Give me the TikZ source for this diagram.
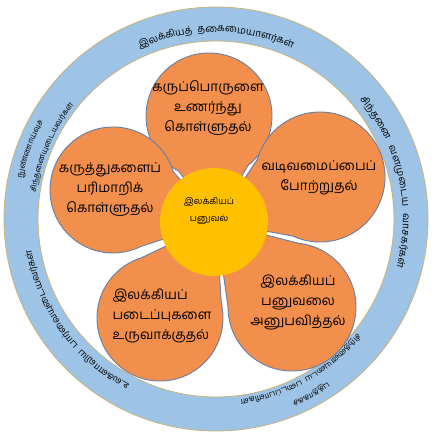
\documentclass[tikz,border=0pt]{standalone}
\usepackage{fontspec}
\setmainfont{Liberation Sans}
\newfontfamily\tamil[Script=Tamil]{Hind Madurai}
\usetikzlibrary{calc}
\definecolor{ringblue}{RGB}{157,195,230}
\definecolor{ringedge}{RGB}{200,180,120}
\definecolor{petalorange}{RGB}{243,143,76}
\definecolor{petaledge}{RGB}{100,128,168}
\definecolor{hubyellow}{RGB}{255,192,0}
\newdimen\clw
\newdimen\totw
\tikzset{
  ringlbl/.style={inner sep=0pt, outer sep=0pt, anchor=base, text=black},
  petalshape/.style={fill=petalorange, draw=petaledge, line width=0.9pt, line join=round},
  petaltxt/.style={align=center, text=black, inner sep=0pt, font=\tamil\fontsize{13.5}{20}\selectfont},
  hubtxt/.style={align=center, text=black, inner sep=0pt, font=\tamil\fontsize{9}{17}\selectfont},
}
% measure outside the picture: #1 name, #2 font, #3 baseline radius, #4 centre angle, #5 clusters
\newcommand\prepring[5]{%
  \global\totw=0pt
  \foreach \cl in {#5}{\setbox0=\hbox{#2\cl}\global\advance\totw by \wd0\relax}%
  \pgfmathsetmacro\rtstart{#4+(\totw/(#3))*28.6479}%
  \xdef\curang{\rtstart}%
  \gdef\rtlist{}%
  \foreach \cl in {#5}{%
    \setbox0=\hbox{#2\cl}\clw=\wd0\relax
    \pgfmathsetmacro\dang{(\clw/(#3))*57.2958}%
    \pgfmathsetmacro\midang{\curang-\dang/2}%
    \pgfmathsetmacro\nxt{\curang-\dang}%
    \xdef\curang{\nxt}%
    \ifx\rtlist\empty
      \xdef\rtlist{\midang/\expandafter\unexpanded\expandafter{\cl}}%
    \else
      \xdef\rtlist{\unexpanded\expandafter{\rtlist},\midang/\expandafter\unexpanded\expandafter{\cl}}%
    \fi
  }%
  \global\expandafter\let\csname rl@#1\endcsname\rtlist
}
% place inside the picture: #1 name, #2 font, #3 baseline radius
\newcommand\placering[3]{%
  \expandafter\let\expandafter\rtlist\csname rl@#1\endcsname
  \foreach \ma/\cl [count=\ci] in \rtlist {%
    \pgfmathsetmacro\rotang{\ma-90}%
    \node[ringlbl,font={#2},rotate=\rotang] (#1-\ci) at ($(rc)+(\ma:#3pt)$) {\cl};
  }%
}
% petal: #1 x, #2 y, #3 radius, #4 ccw-side tip half angle, #5 cw-side tip half angle ; tip at (ctr)=(216,214)
\newcommand\petal[5]{%
  \pgfmathsetmacro\pdx{#1-216}%
  \pgfmathsetmacro\pdy{#2-214}%
  \pgfmathsetmacro\pd{veclen(\pdx,\pdy)}%
  \pgfmathsetmacro\pth{atan2(\pdy,\pdx)}%
  \pgfmathsetmacro\pal{asin(#3/\pd)-0.4}%
  \pgfmathsetmacro\ap{min(#4,\pal)}%
  \pgfmathsetmacro\am{min(#5,\pal)}%
  \pgfmathsetmacro\tp{\pd*cos(\ap)-sqrt(max(0,#3*#3-\pd*\pd*sin(\ap)*sin(\ap)))}%
  \pgfmathsetmacro\tm{\pd*cos(\am)-sqrt(max(0,#3*#3-\pd*\pd*sin(\am)*sin(\am)))}%
  \pgfmathsetmacro\php{atan2(\tp*sin(\ap),-\pd+\tp*cos(\ap))}%
  \pgfmathsetmacro\phm{atan2(\tm*sin(\am),-\pd+\tm*cos(\am))}%
  \pgfmathsetmacro\sa{\pth-\phm}%
  \pgfmathsetmacro\ea{\pth+\php}%
  \draw[petalshape] (ctr) -- ($(#1pt,#2pt)+(\sa:#3pt)$) arc[start angle=\sa, end angle=\ea, radius=#3pt] -- cycle;
}
\def\fA{\tamil\fontsize{10}{12}\selectfont}
\def\fB{\tamil\fontsize{8}{10}\selectfont}
\def\fC{\tamil\fontsize{9.5}{11}\selectfont}
\begin{document}%
\prepring{rt}{\fA}{187}{90}{இ,ல,க்,கி,ய,த்,~,~,த,கை,மை,யா,ள,ர்,க,ள்}%
\prepring{rr}{\fA}{187}{12.4}{சி,ந்,த,னை,~,~,~,வ,ள,மு,டை,ய,~,~,~,வா,ச,க,ர்,க,ள்}%
\prepring{rlo}{\fB}{198}{159.4}{நு,ண்,ணா,ய்,வு,ச்}%
\prepring{rli}{\fB}{182}{156.5}{சி,ந்,த,னை,யு,டை,ய,வ,ர்,க,ள்}%
\prepring{rbl}{\fC}{187}{216}{உ,ல,க,ளா,வி,ய,~,~,பா,ர்,வை,யு,டை,ய,வ,ர்,க,ள்}%
\prepring{rbo}{\fB}{198}{-61.5}{பு,த்,தா,க்,க,ச்}%
\prepring{rbi}{\fB}{182}{-60.7}{சி,ந்,த,னை,யு,டை,ய,~,~,ப,டை,ப்,பா,ளி,க,ள்}%
\begin{tikzpicture}[x=1pt,y=1pt]
\useasboundingbox (0,0) rectangle (443,436);
\fill[white] (0,0) rectangle (443,436);
\coordinate (rc) at (216,217);
\coordinate (ctr) at (216,214);
% ring
\fill[ringblue, even odd rule] (rc) circle[radius=212pt] (rc) circle[radius=178pt];
\draw[ringedge, line width=0.8pt] (rc) circle[radius=212pt];
\draw[ringedge, line width=0.8pt] (rc) circle[radius=178pt];
% ring texts
\placering{rt}{\fA}{187}
\placering{rr}{\fA}{187}
\placering{rlo}{\fB}{198}
\placering{rli}{\fB}{182}
\placering{rbl}{\fC}{187}
\placering{rbo}{\fB}{198}
\placering{rbi}{\fB}{182}
% petals
\petal{209}{320}{63}{32.45}{33.2}
\petal{320}{259}{65}{33.2}{33.8}
\petal{292}{129}{64}{33.8}{34.05}
\petal{160}{118}{63}{34.05}{34.5}
\petal{113}{246}{63}{35.7}{32.45}
% hub
\fill[hubyellow] (214,214) circle[radius=54pt];
\node[hubtxt] (hub) at (209,225) {இலக்கியப்\\பனுவல்};
% petal texts
\node[petaltxt] (p1) at (208,328) {கருப்பொருளை\\உணர்ந்து\\கொள்ளுதல்};
\node[petaltxt] (p2) at (319,258) {வடிவமைப்பைப்\\போற்றுதல்};
\node[petaltxt] (p3) at (298,134) {இலக்கியப்\\பனுவலை\\அனுபவித்தல்};
\node[petaltxt,align=left] (p4) at (162,120) {இலக்கியப்\\படைப்புகளை\\உருவாக்குதல்};
\node[petaltxt] (p5) at (110,246) {கருத்துகளைப்\\பரிமாறிக்\\கொள்ளுதல்};
\end{tikzpicture}%
\end{document}
